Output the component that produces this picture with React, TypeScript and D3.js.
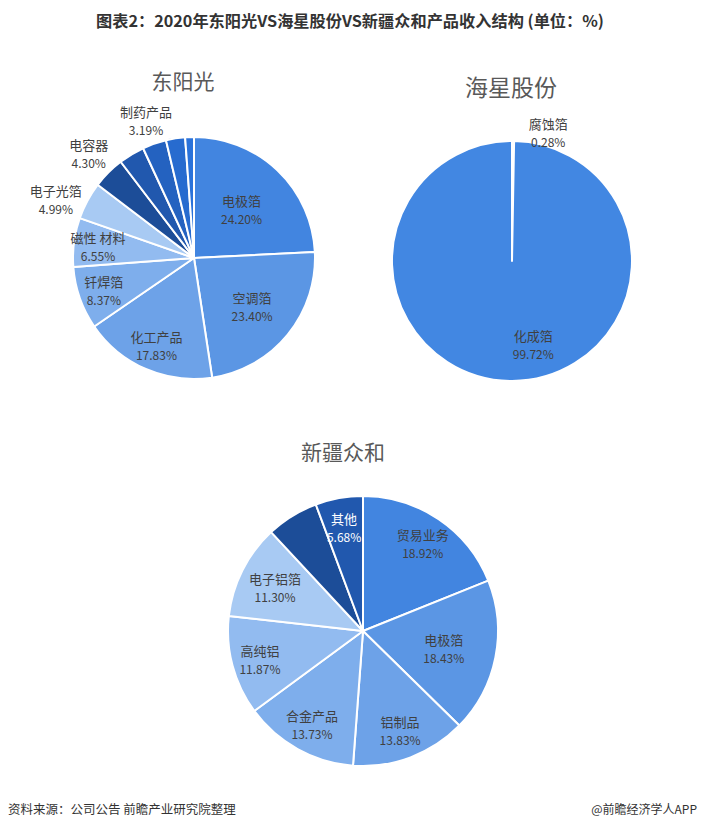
import React from "react";
import * as d3 from "d3";

const dygCategories = ["电极箔", "空调箔", "化工产品", "钎焊箔", "磁性 材料", "电子光箔", "电容器", "", "制药产品", "", ""];
const dygValues = [24.2, 23.4, 17.83, 8.37, 6.55, 4.99, 4.3, 3.45, 3.19, 2.55, 1.17];
const dygPctLabels = ["24.20%", "23.40%", "17.83%", "8.37%", "6.55%", "4.99%", "4.30%", "", "3.19%", "", ""];

const hxCategories = ["腐蚀箔", "化成箔"];
const hxValues = [0.28, 99.72];
const hxPctLabels = ["0.28%", "99.72%"];

const xjCategories = ["贸易业务", "电极箔", "铝制品", "合金产品", "高纯铝", "电子铝箔", "", "其他"];
const xjValues = [18.92, 18.43, 13.83, 13.73, 11.87, 11.3, 6.24, 5.68];
const xjPctLabels = ["18.92%", "18.43%", "13.83%", "13.73%", "11.87%", "11.30%", "", "5.68%"];

// styling / layout (not data)
const dygColors = ["#4285E0", "#5B96E4", "#6DA2E8", "#7EAEEC", "#92BBF0", "#A8CAF3", "#1C4D98", "#2158AE", "#2462C0", "#276BCF", "#2A72DA"];
const dygLabelR = [0.57, 0.62, 0.78, 0.79, 0.8, 1.24, 1.23, 0, 1.21, 0, 0];
const dygOffsets = [[0, 0], [0, 0], [0, 0], [0, 0], [0, 0], [-6, 11], [0, 0], [0, 0], [0, 0], [0, 0], [0, 0]];
const dygTextColors = dygCategories.map(() => "#404040");

const hxColors = ["#4287E2", "#4287E2"];
const hxLabelR = [1.12, 0.71];
const hxOffsets = [[35, 5], [22, -3]];
const hxTextColors = ["#404040", "#404040"];

const xjColors = ["#4285E0", "#5B96E4", "#6DA2E8", "#7EAEEC", "#92BBF0", "#A8CAF3", "#1C4D98", "#2158AE"];
const xjLabelR = [0.79, 0.61, 0.78, 0.78, 0.79, 0.73, 0, 0.79];
const xjOffsets = [[0, 0], [0, 0], [0, 0], [0, 0], [0, 0], [0, 0], [0, 0], [0, 0]];
const xjTextColors = ["#404040", "#404040", "#404040", "#404040", "#404040", "#404040", "#404040", "#ffffff"];

const CJK = "'Noto Sans CJK SC', 'Noto Sans', sans-serif";

type PieProps = {
  cx: number; cy: number; r: number;
  title: string; tx: number; ty: number; tsize: number;
  cats: string[]; vals: number[]; pcts: string[];
  colors: string[]; labelR: number[]; offsets: number[][]; textColors: string[];
};

function Pie(p: PieProps) {
  const pie = d3.pie<number>().sort(null).value((d) => d)(p.vals);
  const arc = d3.arc<d3.PieArcDatum<number>>().innerRadius(0).outerRadius(p.r);
  return (
    <g>
      <text x={p.tx} y={p.ty} textAnchor="middle" dominantBaseline="central" fontSize={p.tsize} fill="#595959" fontFamily={CJK}>
        {p.title}
      </text>
      <g transform={`translate(${p.cx},${p.cy})`}>
        {pie.map((d, i) => (
          <path key={i} d={arc(d) || ""} fill={p.colors[i]} stroke="#fff" strokeWidth={2} strokeLinejoin="round" />
        ))}
        {pie.map((d, i) => {
          if (!p.cats[i]) return null;
          const a = (d.startAngle + d.endAngle) / 2;
          const rr = p.labelR[i] * p.r;
          const x = Math.sin(a) * rr + p.offsets[i][0];
          const y = -Math.cos(a) * rr + p.offsets[i][1];
          return (
            <g key={"l" + i} fontFamily={CJK} fill={p.textColors[i]} textAnchor="middle">
              <text x={x} y={y - 8} fontSize={13} dominantBaseline="central">{p.cats[i]}</text>
              <text x={x} y={y + 10} fontSize={12} dominantBaseline="central">{p.pcts[i]}</text>
            </g>
          );
        })}
      </g>
    </g>
  );
}

export default function App() {
  return (
    <svg width={701} height={830} style={{ position: "absolute", left: 0, top: 0, background: "#fff" }}>
      <rect x={0} y={0} width={701} height={830} fill="#fff" />
      <text x={350} y={20} textAnchor="middle" dominantBaseline="central" fontSize={16} fontWeight="bold" fill="#333" fontFamily={CJK} textLength={508} lengthAdjust="spacingAndGlyphs">
        图表2：2020年东阳光VS海星股份VS新疆众和产品收入结构 (单位：%)
      </text>
      <Pie cx={194} cy={258} r={121} title="东阳光" tx={183} ty={80} tsize={21}
        cats={dygCategories} vals={dygValues} pcts={dygPctLabels}
        colors={dygColors} labelR={dygLabelR} offsets={dygOffsets} textColors={dygTextColors} />
      <Pie cx={512} cy={261} r={120} title="海星股份" tx={511} ty={86} tsize={23}
        cats={hxCategories} vals={hxValues} pcts={hxPctLabels}
        colors={hxColors} labelR={hxLabelR} offsets={hxOffsets} textColors={hxTextColors} />
      <Pie cx={363} cy={631} r={135} title="新疆众和" tx={343} ty={451} tsize={21}
        cats={xjCategories} vals={xjValues} pcts={xjPctLabels}
        colors={xjColors} labelR={xjLabelR} offsets={xjOffsets} textColors={xjTextColors} />
      <text x={8} y={808} fontSize={12.5} fill="#333" fontFamily={CJK} dominantBaseline="central">
        资料来源：公司公告 前瞻产业研究院整理
      </text>
      <text x={697} y={808} fontSize={12} fill="#333" fontFamily={CJK} dominantBaseline="central" textAnchor="end">
        @前瞻经济学人APP
      </text>
    </svg>
  );
}
